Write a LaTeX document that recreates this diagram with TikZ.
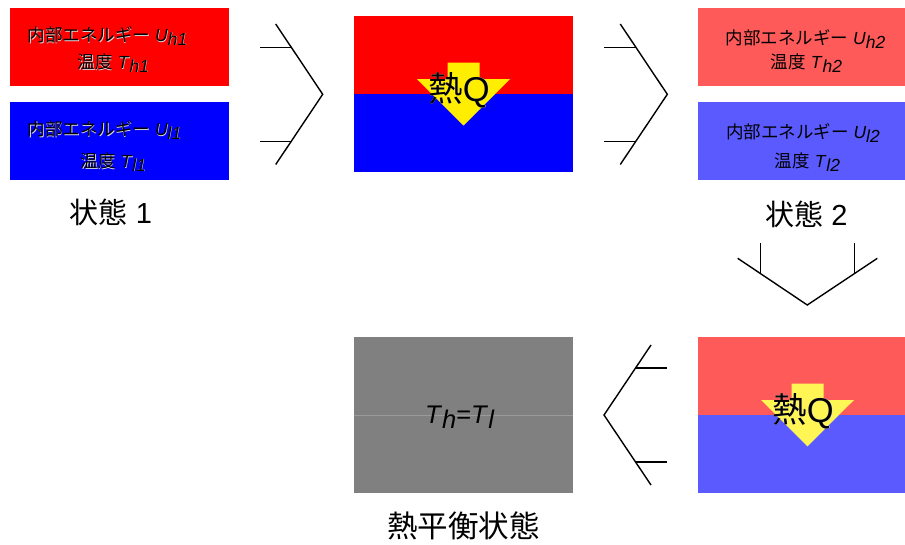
\documentclass[tikz,border=0pt]{standalone}
\usepackage{fontspec}
\setmainfont{Liberation Sans}
\newfontfamily\jp{Noto Sans CJK JP}
\definecolor{hred}{RGB}{255,0,0}
\definecolor{hblue}{RGB}{0,0,255}
\definecolor{lred}{RGB}{255,90,90}
\definecolor{lblue}{RGB}{90,90,255}
\definecolor{yel}{RGB}{255,238,0}
\definecolor{lyel}{RGB}{255,245,85}
\definecolor{grey1}{RGB}{128,128,128}
\newcommand\vsub[2]{\textit{#1}\raisebox{-0.2em}{\itshape #2}}
\begin{document}
\begin{tikzpicture}[x=1pt,y=-1pt]
\tikzset{
  box/.style={draw=none, inner sep=0pt, minimum width=219pt, minimum height=78pt},
  chev/.style={line width=1.4pt, line join=miter},
  lbl/.style={inner sep=0pt, font=\fontsize{17.5}{20}\selectfont},
  big/.style={inner sep=0pt, font=\fontsize{29}{32}\selectfont},
  heat/.style={inner sep=0pt, font=\fontsize{34.5}{38}\selectfont},
  shade/.style={white!85!black, xshift=0.5pt, yshift=-0.5pt},
}
\useasboundingbox (0,0) rectangle (905,544);
\clip (0,0) rectangle (905,544);

% ---- State 1 ----
\node[box, fill=hred] (s1h) at (119.5,47) {};
\node[box, fill=hblue] (s1l) at (119.5,141) {};
\node[lbl,shade] at (107.5,36) {{\jp 内部エネルギー} \vsub{U}{h1}};
\node[lbl] (s1ht1) at (107.5,36) {{\jp 内部エネルギー} \vsub{U}{h1}};
\node[lbl,shade] at (113.5,63) {{\jp 温度} \vsub{T}{h1}};
\node[lbl] (s1ht2) at (113.5,63) {{\jp 温度} \vsub{T}{h1}};
\node[lbl,shade] at (104.5,130) {{\jp 内部エネルギー} \vsub{U}{l1}};
\node[lbl] (s1lt1) at (104.5,130) {{\jp 内部エネルギー} \vsub{U}{l1}};
\node[lbl,shade] at (113.5,162) {{\jp 温度} \vsub{T}{l1}};
\node[lbl] (s1lt2) at (113.5,162) {{\jp 温度} \vsub{T}{l1}};
\node[big] (st1) at (111,212) {{\jp 状態} 1};

% ---- Transition (heat flow) ----
\node[box, fill=hred] (mh) at (463.5,55.2) {};
\node[box, fill=hblue] (ml) at (463.5,133.2) {};
\coordinate (mc) at (463.5,94.2);
\fill[yel, shift={(mc)}] (-16,-31.5) -- (16,-31.5) -- (16,-15) -- (46.5,-15)
   -- (0,31.3) -- (-46.5,-15) -- (-16,-15) -- cycle;
\node[heat,shade] at (459,90) {{\jp 熱}Q};
\node[heat] (mq) at (459,90) {{\jp 熱}Q};

% ---- State 2 ----
\node[box, fill=lred] (s2h) at (807.5,47) {};
\node[box, fill=lblue] (s2l) at (807.5,141) {};
\node[lbl] (s2ht1) at (805.5,39) {{\jp 内部エネルギー} \vsub{U}{h2}};
\node[lbl] (s2ht2) at (806.5,63) {{\jp 温度} \vsub{T}{h2}};
\node[lbl] (s2lt1) at (803,133) {{\jp 内部エネルギー} \vsub{U}{l2}};
\node[lbl] (s2lt2) at (807.5,162) {{\jp 温度} \vsub{T}{l2}};
\node[big] (st2) at (806.5,214) {{\jp 状態} 2};

% ---- Second heat flow ----
\node[box, fill=lred] (bh) at (807.5,376) {};
\node[box, fill=lblue] (bl) at (807.5,454) {};
\coordinate (bc) at (807.5,415);
\fill[lyel, shift={(bc)}] (-16,-31.5) -- (16,-31.5) -- (16,-15) -- (46.5,-15)
   -- (0,31.3) -- (-46.5,-15) -- (-16,-15) -- cycle;
\node[heat,shade] at (803,411) {{\jp 熱}Q};
\node[heat] (bq) at (803,411) {{\jp 熱}Q};

% ---- Equilibrium ----
\node[box, fill=grey1] (eh) at (463.5,376) {};
\node[box, fill=grey1] (el) at (463.5,454) {};
\draw[grey1!80!white, line width=0.6pt] (eh.south west) -- (eh.south east);
\node[inner sep=0pt, font=\fontsize{25.5}{28}\selectfont] (eq) at (459.5,417)
   {\vsub{T}{h}=\vsub{T}{l}};
\node[inner sep=0pt, font=\fontsize{30.5}{34}\selectfont] (st3) at (463.5,526) {\jp 熱平衡状態};

% ---- Chevrons ----
\coordinate (c1t) at (322.7,94.3);
\draw[chev] (275.7,24) -- (c1t) -- (275.7,164.5);
\draw[chev] (260,47.3) -- (291.3,47.3);
\draw[chev] (260,141.3) -- (291.3,141.3);

\coordinate (c2t) at (667.3,94.3);
\draw[chev] (620.3,24) -- (c2t) -- (620.3,164.5);
\draw[chev] (604.3,47.3) -- (635.9,47.3);
\draw[chev] (604.3,141.3) -- (635.9,141.3);

\coordinate (c3t) at (807.3,305);
\draw[chev] (737.7,258.3) -- (c3t) -- (877.3,258.3);
\draw[chev] (760.7,243.3) -- (760.7,273.8);
\draw[chev] (854.3,243.3) -- (854.3,273.8);

\coordinate (c4t) at (604,415);
\draw[chev] (651,345) -- (c4t) -- (651,485);
\draw[chev] (635.6,368) -- (666.6,368);
\draw[chev] (635.6,462) -- (666.6,462);
\end{tikzpicture}
\end{document}
